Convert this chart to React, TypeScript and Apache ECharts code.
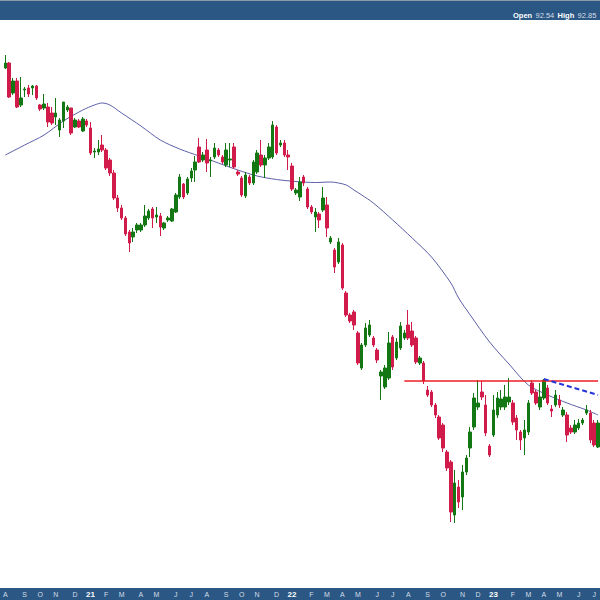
import React, { useEffect, useRef } from 'react';
import * as echarts from 'echarts';

// Weekly bars, first week starting Monday 2020-08-03
const START_DATE = Date.UTC(2020, 7, 3);
const WEEK_COUNT = 154;
const MONTH_LETTERS = ['J', 'F', 'M', 'A', 'M', 'J', 'J', 'A', 'S', 'O', 'N', 'D'];

const openPrices = [
  170.4, 171.4, 165.4, 167.8, 163.0, 166.0, 166.4, 166.4, 166.8, 163.0,
  162.4, 162.6, 161.4, 160.6, 158.0, 159.8, 162.0, 162.4, 158.6, 159.8,
  157.8, 159.8, 158.4, 153.6, 153.6, 155.0, 154.0, 152.0, 149.4, 144.4,
  142.4, 140.4, 137.6, 136.6, 138.0, 138.0, 139.0, 140.4, 142.2, 140.6,
  140.8, 138.4, 140.0, 139.8, 141.6, 144.6, 147.2, 145.4, 148.4, 150.0,
  154.6, 152.0, 154.0, 151.8, 152.6, 154.0, 152.6, 151.0, 152.0, 154.6,
  149.6, 148.4, 144.8, 148.6, 147.4, 149.6, 153.0, 151.0, 152.4, 152.6,
  158.6, 155.0, 155.4, 153.0, 150.8, 145.4, 144.6, 148.6, 146.2, 142.6,
  140.6, 141.2, 142.0, 143.0, 135.6, 134.0, 131.6, 135.0, 125.4, 121.0,
  121.6, 117.4, 110.4, 115.0, 117.0, 116.4, 114.0, 108.8, 106.6, 108.4,
  116.6, 112.4, 114.4, 116.4, 119.0, 117.8, 116.4, 111.4, 111.4, 106.0,
  105.6, 103.0, 100.6, 99.0, 93.6, 91.6, 81.0, 86.6, 84.6, 89.6,
  94.4, 98.6, 102.6, 105.6, 103.0, 94.8, 97.0, 101.0, 102.6, 102.6,
  103.6, 103.4, 100.4, 97.6, 96.4, 97.6, 107.4, 105.6, 102.6, 104.4,
  106.4, 102.2, 103.0, 104.0, 101.0, 101.0, 98.4, 97.6, 98.4, 99.4,
  101.4, 101.4, 99.4, 94.6,
];

const closePrices = [
  171.4, 164.6, 167.8, 162.6, 164.4, 166.2, 165.2, 166.8, 164.4, 162.2,
  163.2, 159.6, 159.4, 161.4, 160.0, 163.6, 162.6, 157.4, 160.0, 158.6,
  160.2, 159.0, 153.4, 153.8, 154.2, 154.0, 150.4, 149.4, 144.4, 142.4,
  140.4, 137.2, 135.4, 137.6, 139.0, 139.0, 140.8, 141.8, 140.4, 141.0,
  138.6, 139.4, 140.4, 142.2, 145.0, 148.6, 144.6, 148.2, 149.8, 151.6,
  151.6, 153.0, 151.4, 152.0, 154.4, 153.0, 151.6, 154.0, 152.2, 150.6,
  149.2, 145.0, 149.0, 147.4, 151.6, 153.4, 151.0, 152.4, 154.6, 159.0,
  153.4, 155.4, 153.0, 152.6, 146.2, 146.0, 147.6, 147.4, 142.6, 141.6,
  141.6, 140.0, 144.4, 138.4, 136.4, 130.6, 135.6, 126.4, 121.0, 119.8,
  119.0, 111.4, 115.0, 118.4, 119.0, 115.0, 112.0, 109.6, 110.4, 115.4,
  110.6, 115.6, 118.8, 117.4, 116.4, 115.0, 111.6, 112.4, 107.8, 105.0,
  103.0, 101.0, 96.4, 94.4, 90.4, 81.6, 87.4, 83.6, 89.6, 92.4,
  97.6, 104.4, 103.4, 104.6, 97.4, 93.0, 102.0, 104.4, 104.2, 104.6,
  104.6, 99.6, 98.0, 96.0, 98.0, 103.4, 105.4, 103.4, 104.6, 108.0,
  103.4, 101.8, 105.0, 103.0, 102.0, 97.0, 97.6, 99.0, 99.4, 100.0,
  102.0, 96.0, 95.0, 99.4,
];

const lowPrices = [
  170.2, 164.4, 165.0, 162.4, 162.6, 164.6, 164.6, 165.0, 164.0, 161.8,
  162.0, 158.6, 159.0, 159.0, 156.6, 158.4, 161.6, 157.0, 158.4, 158.4,
  157.6, 158.6, 153.0, 152.4, 153.0, 153.6, 150.0, 148.8, 144.0, 141.6,
  140.0, 136.8, 133.6, 135.6, 137.4, 137.6, 138.6, 140.0, 138.4, 139.4,
  136.8, 138.0, 139.6, 139.6, 141.4, 144.2, 144.2, 145.0, 147.6, 147.6,
  151.4, 151.6, 149.6, 148.6, 152.2, 152.6, 151.2, 150.6, 150.6, 150.2,
  148.8, 144.6, 144.4, 147.0, 147.0, 149.2, 150.6, 148.4, 152.0, 152.2,
  153.0, 154.6, 152.6, 150.0, 145.8, 145.0, 143.8, 146.8, 142.2, 141.2,
  137.6, 138.4, 141.6, 136.6, 135.2, 129.4, 131.2, 126.0, 120.6, 119.4,
  118.0, 111.0, 110.0, 114.6, 116.6, 114.6, 111.4, 104.0, 106.2, 108.0,
  110.0, 112.0, 114.0, 116.0, 116.0, 114.6, 111.2, 111.0, 107.2, 104.6,
  102.6, 100.4, 96.0, 93.6, 89.8, 79.6, 79.4, 82.4, 82.0, 89.0,
  92.6, 98.0, 102.0, 104.0, 96.8, 92.6, 96.6, 100.4, 102.0, 102.0,
  103.0, 99.0, 96.0, 94.0, 93.0, 97.0, 105.0, 103.0, 102.0, 104.0,
  103.0, 100.6, 102.6, 102.4, 100.6, 95.6, 97.2, 97.2, 98.0, 99.0,
  101.0, 95.4, 94.6, 94.4,
];

const highPrices = [
  173.0, 171.6, 168.4, 168.4, 168.6, 166.6, 167.0, 167.0, 167.0, 163.2,
  165.2, 163.4, 162.6, 164.4, 160.4, 163.6, 163.0, 162.4, 160.4, 160.2,
  160.6, 160.2, 159.6, 154.4, 156.0, 157.0, 154.4, 152.4, 150.0, 145.0,
  143.0, 140.8, 138.0, 138.4, 139.4, 139.4, 143.0, 142.2, 142.6, 142.6,
  141.4, 139.6, 140.8, 142.4, 145.4, 149.2, 147.4, 148.6, 150.4, 152.8,
  156.4, 153.6, 156.2, 152.6, 155.4, 154.4, 153.0, 155.4, 155.4, 155.4,
  150.0, 148.8, 149.6, 149.0, 152.0, 154.0, 156.0, 153.0, 155.4, 159.8,
  159.0, 156.0, 156.0, 154.0, 151.4, 146.4, 148.6, 149.0, 146.6, 143.0,
  142.4, 141.6, 146.6, 144.6, 136.8, 134.4, 136.4, 135.4, 125.8, 121.4,
  122.0, 117.8, 115.4, 119.4, 120.0, 116.8, 114.4, 110.0, 111.0, 117.6,
  117.0, 116.4, 119.6, 118.0, 122.0, 119.6, 116.8, 112.8, 111.8, 106.8,
  106.0, 103.4, 101.0, 99.4, 94.0, 92.0, 90.0, 88.0, 91.0, 93.0,
  98.6, 105.4, 108.0, 107.8, 105.0, 95.2, 105.0, 105.6, 106.0, 107.0,
  108.4, 104.0, 101.0, 98.0, 100.0, 104.0, 108.0, 106.0, 107.4, 108.2,
  107.0, 103.0, 106.0, 105.0, 102.6, 101.6, 99.0, 100.0, 100.2, 100.4,
  103.0, 102.0, 100.0, 100.0,
];

// Moving average readings (week index, value)
const maWeekIndex = [0, 5, 10, 15, 20, 23, 25, 27, 30, 35, 40, 45, 50, 55, 60, 65, 70, 75, 80, 84, 86, 88, 90, 92, 95, 100, 105, 110, 115, 117, 120, 125, 130, 135, 140, 145, 150, 153];
const maValues = [153.0, 155.0, 157.0, 159.8, 162.0, 163.0, 163.4, 163.0, 161.4, 158.8, 156.0, 154.2, 152.8, 151.4, 150.0, 148.8, 148.1, 147.7, 147.5, 147.6, 147.4, 147.0, 146.0, 145.0, 143.4, 140.0, 136.4, 132.6, 127.4, 124.4, 121.0, 115.6, 111.2, 107.0, 105.0, 103.4, 102.0, 101.0];

// Horizontal resistance line and dashed down trend line
const resistanceWeeks = [103, 153];
const resistanceLevel = 107.8;
const trendWeeks = [139, 153];
const trendValues = [108.2, 105.0];

const headerParts = ['Open', '92.54', 'High', '92.85'];

export default function App() {
  const ref = useRef<HTMLDivElement>(null);

  useEffect(() => {
    if (!ref.current) return;
    const chart = echarts.init(ref.current, null, { renderer: 'svg' });

    const dates = Array.from({ length: WEEK_COUNT }, (_, i) => new Date(START_DATE + i * 7 * 86400000));
    const categories = dates.map((d) => d.toISOString().slice(0, 10));
    const isMonthStart = dates.map((d, i) => i === 0 || d.getUTCMonth() !== dates[i - 1].getUTCMonth());

    const candles = openPrices.map((o, i) => [o, closePrices[i], lowPrices[i], highPrices[i]]);
    const maData = maWeekIndex.map((w, i) => [w, maValues[i]]);

    const band = '#2b5784';

    chart.setOption({
      animation: false,
      backgroundColor: '#ffffff',
      grid: { left: 0, right: 0, top: 20, bottom: 30 },
      xAxis: {
        type: 'category',
        data: categories,
        boundaryGap: true,
        axisLine: { show: false },
        axisTick: { show: false },
        splitLine: { show: false },
        axisLabel: {
          interval: (idx: number) => isMonthStart[idx],
          margin: 24,
          verticalAlign: 'middle',
          formatter: (_v: string, idx: number) => {
            const d = dates[idx];
            const m = d.getUTCMonth();
            if (m === 0) return '{y|' + String(d.getUTCFullYear()).slice(2) + '}';
            return '{m|' + MONTH_LETTERS[m] + '}';
          },
          rich: {
            y: { color: '#ffffff', fontSize: 8, fontWeight: 'bold', fontFamily: 'Liberation Sans, Arial, sans-serif' },
            m: { color: '#d5dee8', fontSize: 7, fontFamily: 'Liberation Sans, Arial, sans-serif' },
          },
        },
      },
      yAxis: {
        type: 'value',
        min: 70,
        max: 180,
        show: false,
        splitLine: { show: false },
      },
      graphic: {
        elements: [
          { type: 'rect', z: -10, shape: { x: 0, y: 0, width: 600, height: 20 }, style: { fill: band } },
          { type: 'rect', z: -10, shape: { x: 0, y: 0, width: 600, height: 1 }, style: { fill: '#8d9aa8' } },
          { type: 'rect', z: -10, shape: { x: 0, y: 588, width: 600, height: 12 }, style: { fill: band } },
          {
            type: 'text',
            x: 513,
            y: 15,
            style: {
              text:
                '{b|' + headerParts[0] + '} {v|' + headerParts[1] + '} {b|' + headerParts[2] + '} {v|' + headerParts[3] + '}',
              verticalAlign: 'middle',
              rich: {
                b: { fill: '#ffffff', fontSize: 7.5, fontWeight: 'bold', fontFamily: 'Liberation Sans, Arial, sans-serif' },
                v: { fill: '#d5dee8', fontSize: 7.5, fontFamily: 'Liberation Sans, Arial, sans-serif' },
              },
            },
          },
        ],
      },
      series: [
        {
          name: 'MA',
          type: 'line',
          data: maData,
          smooth: 0.3,
          symbol: 'none',
          lineStyle: { color: '#5b5fa8', width: 1 },
          z: 1,
        },
        {
          name: 'Price',
          type: 'candlestick',
          data: candles,
          barWidth: 3,
          itemStyle: {
            color: '#137713',
            color0: '#d11b4b',
            borderColor: '#137713',
            borderColor0: '#d11b4b',
            borderWidth: 1,
          },
          z: 2,
        },
        {
          name: 'Resistance',
          type: 'line',
          data: resistanceWeeks.map((w) => [w, resistanceLevel]),
          symbol: 'none',
          lineStyle: { color: '#ee1c25', width: 1.5 },
          z: 3,
        },
        {
          name: 'Trend',
          type: 'line',
          data: trendWeeks.map((w, i) => [w, trendValues[i]]),
          symbol: 'none',
          lineStyle: { color: '#2636d8', width: 2, type: [5, 3] },
          z: 3,
        },
      ],
    });

    return () => chart.dispose();
  }, []);

  return <div ref={ref} style={{ position: 'fixed', left: 0, top: 0, width: 600, height: 600 }} />;
}
